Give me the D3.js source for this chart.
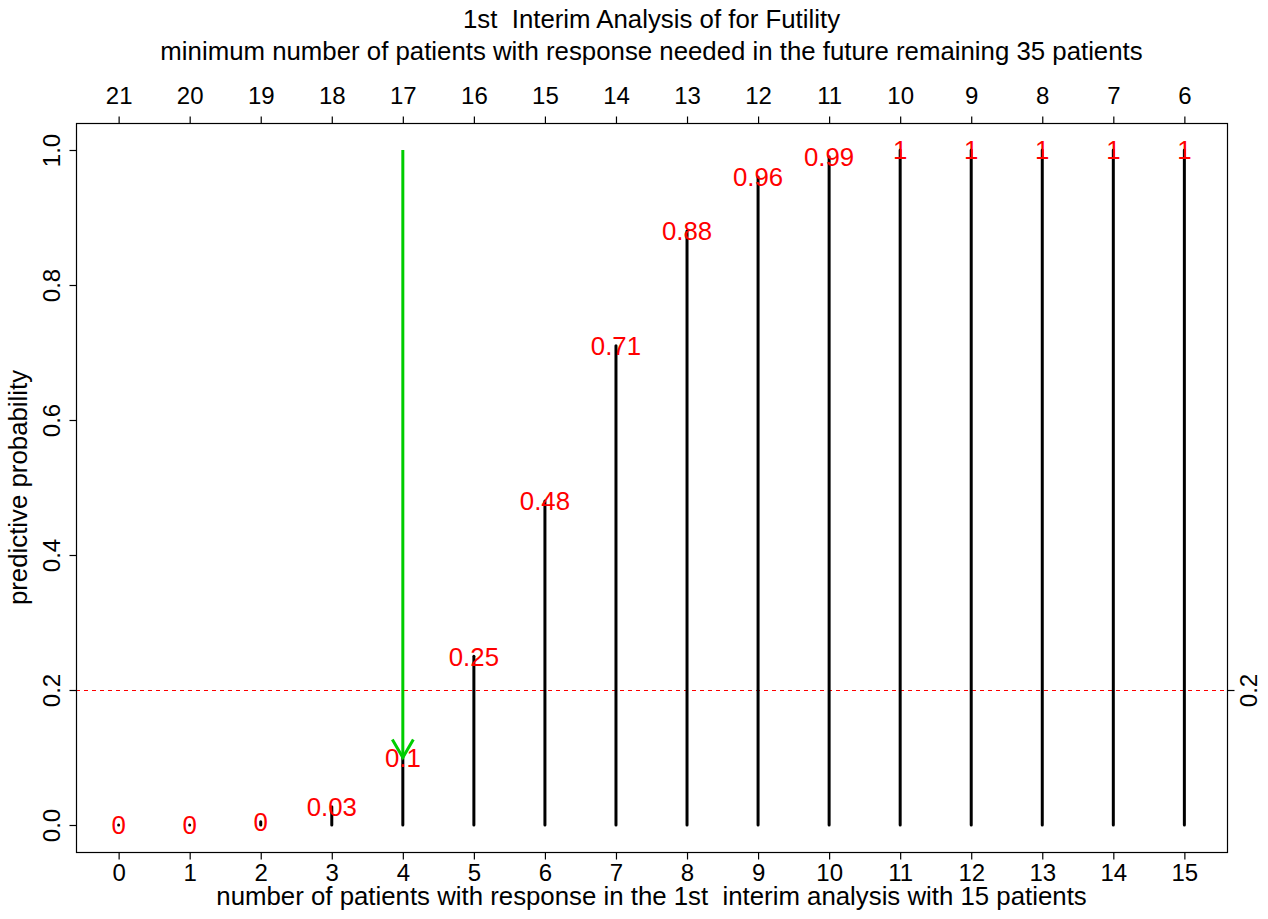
<!DOCTYPE html>
<html>
<head>
  <meta charset="utf-8"/>
  <title>Interim analysis for futility</title>
  <script src="https://d3js.org/d3.v7.min.js"></script>
  <style>
    body { margin: 0; background: #fff; }
    text { font-family: "Liberation Sans", Arial, sans-serif; }
  </style>
</head>
<body>
<div id="chart"></div>
<script>
  // responders in the 1st interim analysis (15 patients)
  var responders = [0, 1, 2, 3, 4, 5, 6, 7, 8, 9, 10, 11, 12, 13, 14, 15];
  // minimum responders still needed among the remaining 35 patients
  var needed = [21, 20, 19, 18, 17, 16, 15, 14, 13, 12, 11, 10, 9, 8, 7, 6];
  // predictive probability (bar heights) and the printed labels
  var predProb = [0, 0, 0.005, 0.027, 0.1, 0.25, 0.48, 0.71, 0.88, 0.96, 0.99, 1, 1, 1, 1, 1];
  var probLabels = ["0", "0", "0", "0.03", "0.1", "0.25", "0.48", "0.71", "0.88", "0.96", "0.99", "1", "1", "1", "1", "1"];
  var yTicks = [0, 0.2, 0.4, 0.6, 0.8, 1.0];
  var cutoff = 0.2;
  var arrowAt = 4, arrowFrom = 1.0, arrowTo = 0.1;

  var W = 1268, H = 919;
  var pLeft = 76, pRight = 1227, pTop = 123, pBottom = 852;
  var fs = 25.8;     // titles and red labels
  var fsAxis = 24;   // tick labels

  var svg = d3.select('#chart').append('svg')
    .attr('width', W).attr('height', H);

  var x = d3.scaleLinear().domain([-0.6, 15.6]).range([pLeft, pRight]);
  var y = d3.scaleLinear().domain([-0.04, 1.04]).range([pBottom, pTop]);

  // cutoff line
  svg.append('line')
    .attr('x1', pLeft).attr('x2', pRight)
    .attr('y1', Math.round(y(cutoff)) + 0.5).attr('y2', Math.round(y(cutoff)) + 0.5)
    .attr('stroke', '#ff0000').attr('stroke-width', 1)
    .attr('stroke-dasharray', '4,4');

  // bars
  svg.append('g').selectAll('line')
    .data(responders)
    .enter().append('line')
    .attr('x1', function(d) { return x(d); })
    .attr('x2', function(d) { return x(d); })
    .attr('y1', y(0))
    .attr('y2', function(d, i) { return y(predProb[i]); })
    .attr('stroke', '#000').attr('stroke-width', 3)
    .attr('stroke-linecap', 'round');

  // probability labels, on top of the bars
  svg.append('g').selectAll('text')
    .data(responders)
    .enter().append('text')
    .attr('x', function(d) { return x(d); })
    .attr('y', function(d, i) { return y(predProb[i]); })
    .attr('dy', '0.36em')
    .attr('text-anchor', 'middle')
    .attr('fill', '#ff0000')
    .style('font-size', fs + 'px')
    .text(function(d, i) { return probLabels[i]; });

  // arrow
  var green = '#00cd00';
  var ax = x(arrowAt), ay = y(arrowTo);
  svg.append('line')
    .attr('x1', ax).attr('x2', ax)
    .attr('y1', y(arrowFrom)).attr('y2', ay)
    .attr('stroke', green).attr('stroke-width', 3);
  svg.append('path')
    .attr('d', 'M' + (ax - 10.5) + ',' + (ay - 18) + 'L' + ax + ',' + ay + 'L' + (ax + 10.5) + ',' + (ay - 18))
    .attr('fill', 'none').attr('stroke', green).attr('stroke-width', 3);

  // box
  svg.append('rect')
    .attr('x', pLeft + 0.5).attr('y', pTop + 0.5)
    .attr('width', pRight - pLeft).attr('height', pBottom - pTop)
    .attr('fill', 'none').attr('stroke', '#000').attr('stroke-width', 1.2);

  // axes
  function styleAxis(g) {
    g.select('.domain').remove();
    g.selectAll('.tick line').attr('stroke', '#000').attr('stroke-width', 1.2);
    g.selectAll('text').attr('fill', '#000')
      .style('font-size', fsAxis + 'px')
      .style('font-family', '"Liberation Sans", Arial, sans-serif');
  }

  svg.append('g')
    .attr('transform', 'translate(0,' + (pBottom + 0.5) + ')')
    .call(d3.axisBottom(x).tickValues(responders).tickSize(7).tickPadding(4.5).tickFormat(d3.format('d')))
    .call(styleAxis);

  svg.append('g')
    .attr('transform', 'translate(0,' + (pTop + 0.5) + ')')
    .call(d3.axisTop(x).tickValues(responders).tickSize(7).tickPadding(12.5)
      .tickFormat(function(d, i) { return needed[i]; }))
    .call(styleAxis);

  var yl = svg.append('g')
    .attr('transform', 'translate(' + (pLeft + 0.5) + ',0)')
    .call(d3.axisLeft(y).tickValues(yTicks).tickSize(7).tickFormat(d3.format('.1f')))
    .call(styleAxis);
  yl.selectAll('text')
    .attr('x', null).attr('dy', null)
    .attr('text-anchor', 'middle')
    .attr('transform', 'translate(-17,0) rotate(-90)');

  var yr = svg.append('g')
    .attr('transform', 'translate(' + (pRight + 0.5) + ',0)')
    .call(d3.axisRight(y).tickValues([cutoff]).tickSize(7).tickFormat(d3.format('.1f')))
    .call(styleAxis);
  yr.selectAll('text')
    .attr('x', null).attr('dy', null)
    .attr('text-anchor', 'middle')
    .attr('transform', 'translate(29,0) rotate(-90)');

  // titles
  var cx = (pLeft + pRight) / 2;
  function label(txt, px, py, rot) {
    svg.append('text')
      .attr('transform', 'translate(' + px + ',' + py + ')' + (rot ? ' rotate(-90)' : ''))
      .attr('text-anchor', 'middle')
      .style('font-size', fs + 'px')
      .style('white-space', 'pre')
      .attr('fill', '#000')
      .text(txt);
  }
  label('1st  Interim Analysis of for Futility', cx, 28);
  label('minimum number of patients with response needed in the future remaining 35 patients', cx, 60);
  label('number of patients with response in the 1st  interim analysis with 15 patients', cx, 905);
  label('predictive probability', 27, (pTop + pBottom) / 2, true);
</script>
</body>
</html>
